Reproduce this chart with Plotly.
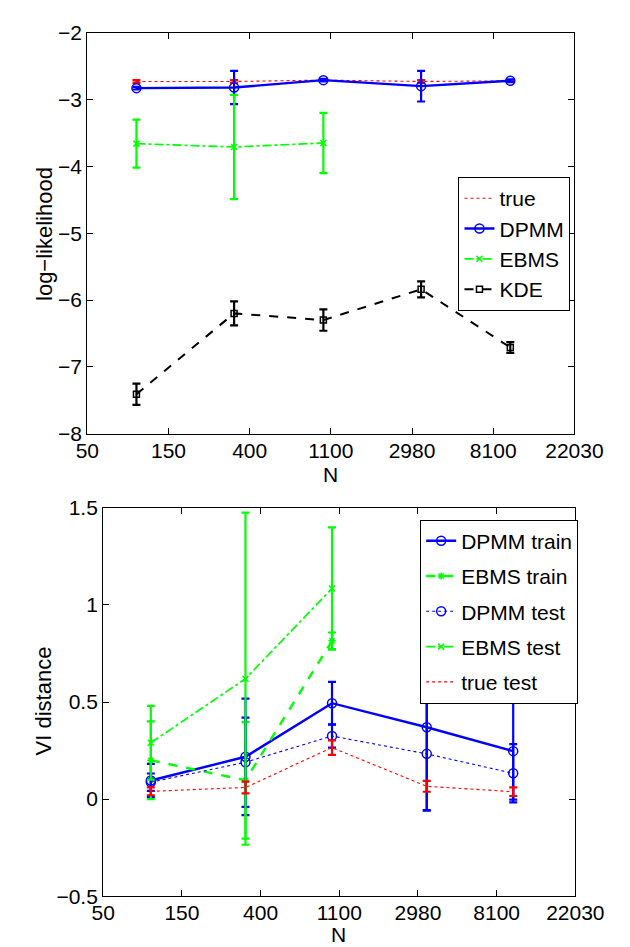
import numpy as np
import plotly.graph_objects as go

# ---------------- data ----------------
N = [100, 333, 1000, 3333, 10000]
N_ebms = [100, 333, 1000]
tick_labels = ['50', '150', '400', '1100', '2980', '8100', '22030']
tick_exponents = [4, 5, 6, 7, 8, 9, 10]

# top: log-likelihood
ll_true = [-2.73, -2.73, -2.71, -2.73, -2.72]
ll_true_err = [0.02, 0.02, 0.01, 0.02, 0.01]
ll_dpmm = [-2.83, -2.82, -2.71, -2.80, -2.72]
ll_dpmm_err = [0.02, 0.25, 0.02, 0.23, 0.02]
ll_ebms = [-3.66, -3.71, -3.65]
ll_ebms_err = [0.36, 0.78, 0.45]
ll_kde = [-7.41, -6.20, -6.30, -5.84, -6.71]
ll_kde_err = [0.16, 0.18, 0.16, 0.12, 0.08]

# bottom: VI distance
vi_dpmm_train = [0.096, 0.218, 0.494, 0.37, 0.247]
vi_dpmm_train_err = [0.085, 0.30, 0.11, 0.43, 0.25]
vi_ebms_train = [0.20, 0.097, 0.815]
vi_ebms_train_err = [0.20, 0.30, 0.043]
vi_dpmm_test = [0.087, 0.19, 0.325, 0.233, 0.133]
vi_dpmm_test_err = [0.045, 0.23, 0.06, 0.29, 0.15]
vi_ebms_test = [0.29, 0.62, 1.085]
vi_ebms_test_err = [0.19, 0.855, 0.315]
vi_true_test = [0.04, 0.06, 0.265, 0.066, 0.038]
vi_true_test_err = [0.02, 0.03, 0.037, 0.028, 0.022]

# ---------------- figure ----------------
BLUE = 'rgb(0,0,255)'
GREEN = 'rgb(0,255,0)'
RED = 'rgb(255,0,0)'
BLACK = 'rgb(0,0,0)'
FONT = 'Liberation Sans, Arial, Helvetica, sans-serif'
FS_TICK = 21
FS_LAB = 21
FS_LEG = 21

fig = go.Figure()


def add(x, y, err, name, color, dash, width, marker, msize, axis, legend, errw=2.2):
    fig.add_trace(go.Scatter(
        x=x, y=y, name=name, mode='lines+markers' if marker else 'lines',
        legendgroup=name,
        line=dict(color=color, dash=dash, width=width),
        marker=dict(symbol=marker or 'circle', size=msize, color=color,
                    line=dict(color=color, width=1.5)),
        error_y=dict(type='data', array=err, color=color, thickness=errw, width=4),
        xaxis='x' if axis == 1 else 'x2', yaxis='y' if axis == 1 else 'y2',
        legend=legend,
    ))


add(N, ll_true, ll_true_err, 'true', RED, 'dot', 1.1, None, 6, 1, 'legend')
add(N, ll_dpmm, ll_dpmm_err, 'DPMM', BLUE, 'solid', 2.4, 'circle-open', 9, 1, 'legend')
add(N_ebms, ll_ebms, ll_ebms_err, 'EBMS', GREEN, 'dashdot', 1.7, 'x-thin-open', 6, 1, 'legend')
add(N, ll_kde, ll_kde_err, 'KDE', BLACK, 'dash', 2, 'square-open', 6, 1, 'legend')

add(N, vi_dpmm_train, vi_dpmm_train_err, 'DPMM train', BLUE, 'solid', 2.4, 'circle-open', 9, 2, 'legend2')
add(N_ebms, vi_ebms_train, vi_ebms_train_err, 'EBMS train', GREEN, 'dash', 2.4, 'asterisk-open', 6, 2, 'legend2')
add(N, vi_dpmm_test, vi_dpmm_test_err, 'DPMM test', BLUE, 'dot', 1.1, 'circle-open', 9, 2, 'legend2')
add(N_ebms, vi_ebms_test, vi_ebms_test_err, 'EBMS test', GREEN, 'dashdot', 1.7, 'x-thin-open', 6, 2, 'legend2')
add(N, vi_true_test, vi_true_test_err, 'true test', RED, 'dot', 1.1, None, 6, 2, 'legend2')

W, H = 630, 947
tickvals = [float(np.exp(k)) for k in tick_exponents]
xrange = [np.log10(np.exp(tick_exponents[0])), np.log10(np.exp(tick_exponents[-1]))]

axis_common = dict(showline=True, linecolor='black', linewidth=1.3, mirror='ticks',
                   ticks='inside', ticklen=6, tickcolor='black', showgrid=False,
                   zeroline=False, tickfont=dict(family=FONT, size=FS_TICK, color='black'))

fig.update_layout(
    width=W, height=H, margin=dict(l=0, r=0, t=0, b=0),
    paper_bgcolor='white', plot_bgcolor='white',
    font=dict(family=FONT, size=FS_TICK, color='black'),
    showlegend=True,
    xaxis=dict(domain=[72 / W, 593 / W], anchor='y', type='log', range=xrange,
               tickvals=tickvals, ticktext=tick_labels, ticklabelstandoff=-2, **axis_common),
    yaxis=dict(domain=[1 - 424 / H, 1 - 13 / H], anchor='x', range=[-8, -2],
               dtick=1, tick0=-8, **axis_common),
    xaxis2=dict(domain=[89 / W, 594 / W], anchor='y2', type='log', range=xrange,
                tickvals=tickvals, ticktext=tick_labels, ticklabelstandoff=-3, **axis_common),
    yaxis2=dict(domain=[1 - 898 / H, 1 - 500 / H], anchor='x2', range=[-0.5, 1.5],
                dtick=0.5, tick0=-0.5, **axis_common),
    legend=dict(x=469 / W, y=1 - 161 / H, xanchor='left', yanchor='top',
                bgcolor='white', bordercolor='black', borderwidth=1,
                font=dict(family=FONT, size=FS_LEG), tracegroupgap=0),
    legend2=dict(x=428 / W, y=1 - 512 / H, xanchor='left', yanchor='top',
                 bgcolor='white', bordercolor='black', borderwidth=1,
                 font=dict(family=FONT, size=FS_LEG), tracegroupgap=5),
    annotations=[
        dict(text='log−likelihood', x=26 / W, y=1 - 219 / H, xref='paper', yref='paper',
             xanchor='center', yanchor='middle',
             textangle=-90, showarrow=False, font=dict(family=FONT, size=22)),
        dict(text='N', x=332 / W, y=1 - 466 / H, xref='paper', yref='paper',
             xanchor='center', yanchor='middle',
             showarrow=False, font=dict(family=FONT, size=FS_LAB)),
        dict(text='VI distance', x=25 / W, y=1 - 698 / H, xref='paper', yref='paper',
             xanchor='center', yanchor='middle',
             textangle=-90, showarrow=False, font=dict(family=FONT, size=22)),
        dict(text='N', x=341 / W, y=0, xref='paper', yref='paper',
             xanchor='center', yanchor='bottom', yshift=-4,
             showarrow=False, font=dict(family=FONT, size=FS_LAB)),
    ],
)

fig.write_html('out.html')
